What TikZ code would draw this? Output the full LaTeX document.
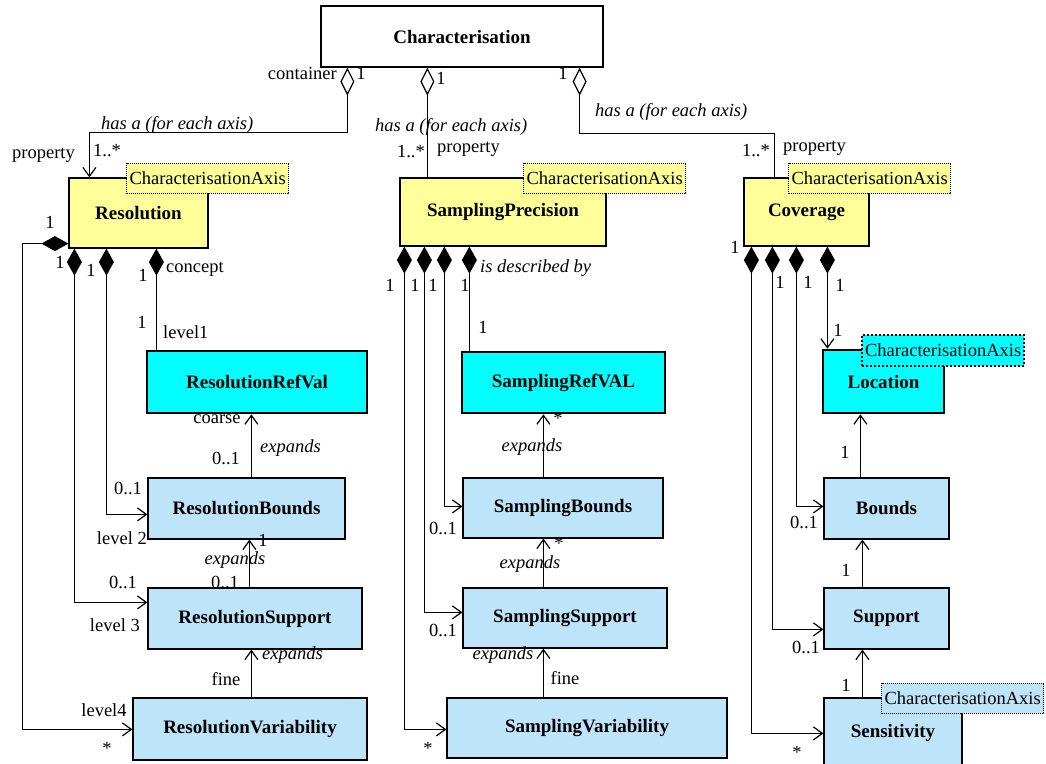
\documentclass[tikz,border=0pt]{standalone}
\usepackage{fontspec}
\setmainfont{Liberation Serif}
\usetikzlibrary{arrows.meta,calc}
\definecolor{axisyel}{RGB}{255,255,153}
\definecolor{refcyan}{RGB}{0,255,255}
\definecolor{subblue}{RGB}{190,228,250}
\begin{document}
\begin{tikzpicture}[x=1pt, y=-1pt,
  every node/.style={font=\fontsize{18.5}{20}\selectfont, inner sep=0pt},
  cls/.style={draw, line width=1.2pt, font=\fontsize{19}{21}\selectfont\bfseries},
  axisbox/.style={cls, fill=axisyel},
  refbox/.style={cls, line width=2.6pt, fill=refcyan},
  detailbox/.style={cls, fill=subblue},
  axistag/.style={draw, line width=1pt, dash pattern=on 1pt off 1pt, inner xsep=3pt, minimum height=30pt, anchor=west},
  rolelbl/.style={font=\fontsize{18.5}{20}\selectfont\itshape},
  link/.style={line width=1.2pt},
  >={Straight Barb[length=9pt, width=13pt]},
  hasa/.style={link, {Diamond[open, length=28pt, width=14pt]}-},
  hasato/.style={link, {Diamond[open, length=28pt, width=14pt]}->},
  partof/.style={link, {Diamond[length=27pt, width=15pt]}-},
  partofto/.style={link, {Diamond[length=27pt, width=15pt]}->},
  expands/.style={link, ->}]
  \useasboundingbox (0,0) rectangle (1046,763);

  \node (l30) at (217,419) {coarse};

  \node[cls, minimum width=282pt, minimum height=61pt] (char) at (462,36.5) {Characterisation};
  \node[axisbox, minimum width=139pt, minimum height=70pt] (res) at (138.5,213) {Resolution};
  \node[axisbox, minimum width=206pt, minimum height=68pt] (sp) at (503,212) {SamplingPrecision};
  \node[axisbox, minimum width=125pt, minimum height=68pt] (cov) at (806.5,212) {Coverage};
  \node[axistag, fill=axisyel] (restag) at (126,178) {CharacterisationAxis};
  \node[axistag, fill=axisyel] (sptag) at (523,178) {CharacterisationAxis};
  \node[axistag, fill=axisyel] (covtag) at (788,178) {CharacterisationAxis};

  \node[refbox, minimum width=220pt, minimum height=62pt] (rrv) at (257,382) {ResolutionRefVal};
  \node[detailbox, minimum width=197pt, minimum height=61pt] (rb) at (246.5,508.5) {ResolutionBounds};
  \node[detailbox, minimum width=214pt, minimum height=61pt] (rs) at (255,618.5) {ResolutionSupport};
  \node[detailbox, minimum width=234pt, minimum height=62pt] (rv) at (250,729) {ResolutionVariability};

  \node[refbox, minimum width=203pt, minimum height=61pt] (srv) at (563.5,382.5) {SamplingRefVAL};
  \node[detailbox, minimum width=200pt, minimum height=60pt] (sb) at (563,508) {SamplingBounds};
  \node[detailbox, minimum width=204pt, minimum height=60pt] (ss) at (565,618) {SamplingSupport};
  \node[detailbox, minimum width=280pt, minimum height=60pt] (sv) at (587,728) {SamplingVariability};

  \node[refbox, minimum width=121pt, minimum height=63pt] (loc) at (883.5,381.5) {Location};
  \node[axistag, fill=refcyan, line width=2.2pt, dash pattern=on 2pt off 2pt, minimum height=31pt] (loctag) at (861,350.5) {CharacterisationAxis};
  \node[detailbox, minimum width=125pt, minimum height=61pt] (bnd) at (886.5,508.5) {Bounds};
  \node[detailbox, minimum width=125pt, minimum height=61pt] (sup) at (886.5,618.5) {Support};
  \node[detailbox, minimum width=138pt, minimum height=70pt] (sens) at (893,733) {Sensitivity};
  \node[axistag, fill=subblue] (senstag) at (881,698) {CharacterisationAxis};

  \coordinate (c1) at ($(char.south west)+(27,0)$);
  \coordinate (c2) at ($(char.south west)+(107,0)$);
  \coordinate (c3) at ($(char.south east)+(-24,0)$);
  \draw[hasato] (c1) -- ++(0,65) -| ($(res.north west)+(21,0)$);
  \draw[hasa] (c2) -- (c2 |- sp.north);
  \draw[hasa] (c3) -- ++(0,66) -| ($(cov.north west)+(31,0)$);

  \coordinate (r4) at ($(res.south west)+(88,0)$);
  \draw[partofto] ($(res.south west)+(0,-5)$) -- ++(-46,0) |- ($(rv.north west)+(0,32)$);
  \draw[partofto] ($(res.south west)+(6,0)$) |- ($(rs.north west)+(0,15)$);
  \draw[partofto] ($(res.south west)+(38,0)$) |- ($(rb.north west)+(0,37)$);
  \draw[partof] (r4) -- (r4 |- rrv.north);

  \coordinate (s4) at ($(sp.south west)+(70,0)$);
  \draw[partofto] ($(sp.south west)+(5,0)$) |- ($(sv.north west)+(0,32)$);
  \draw[partofto] ($(sp.south west)+(25,0)$) |- ($(ss.north west)+(0,25)$);
  \draw[partofto] ($(sp.south west)+(45,0)$) |- ($(sb.north west)+(0,29)$);
  \draw[partof] (s4) -- (s4 |- srv.north);

  \coordinate (v4) at ($(cov.south west)+(84,0)$);
  \draw[partofto] ($(cov.south west)+(8,0)$) |- ($(sens.north west)+(0,36)$);
  \draw[partofto] ($(cov.south west)+(29,0)$) |- ($(sup.north west)+(0,42)$);
  \draw[partofto] ($(cov.south west)+(53,0)$) |- ($(bnd.north west)+(0,29)$);
  \draw[partofto] (v4) -- (v4 |- loc.north);

  \coordinate (e1) at ($(rb.north west)+(104,0)$);
  \coordinate (e2) at ($(rs.north west)+(102,0)$);
  \coordinate (e3) at ($(rv.north west)+(119,0)$);
  \coordinate (e4) at ($(sb.north west)+(81,0)$);
  \coordinate (e5) at ($(ss.north west)+(81,0)$);
  \coordinate (e6) at ($(sv.north west)+(97,0)$);
  \coordinate (e7) at ($(bnd.north west)+(37,0)$);
  \coordinate (e8) at ($(sup.north west)+(39,0)$);
  \coordinate (e9) at ($(sens.north west)+(39,0)$);
  \draw[expands] (e1) -- (e1 |- rrv.south);
  \draw[expands] (e2) -- (e2 |- rb.south);
  \draw[expands] (e3) -- (e3 |- rs.south);
  \draw[expands] (e4) -- (e4 |- srv.south);
  \draw[expands] (e5) -- (e5 |- sb.south);
  \draw[expands] (e6) -- (e6 |- ss.south);
  \draw[expands] (e7) -- (e7 |- loc.south);
  \draw[expands] (e8) -- (e8 |- bnd.south);
  \draw[expands] (e9) -- (e9 |- sup.south);

  \node[anchor=east] (l1) at (337,73) {container};
  \node (l2) at (361,73) {1};
  \node[rolelbl, anchor=west] (l3) at (101,125) {has a (for each axis)};
  \node[anchor=west] (l4) at (12,155) {property};
  \node[anchor=west] (l5) at (93,151) {1..*};
  \node (l6) at (441,78) {1};
  \node[rolelbl, anchor=west] (l7) at (375,127) {has a (for each axis)};
  \node[anchor=east] (l8) at (425,152) {1..*};
  \node[anchor=west] (l9) at (437,149) {property};
  \node (l10) at (563,73) {1};
  \node[rolelbl, anchor=west] (l11) at (595,112) {has a (for each axis)};
  \node[anchor=east] (l12) at (770,151) {1..*};
  \node[anchor=west] (l13) at (783,148) {property};

  \node (l20) at (50,222) {1};
  \node (l21) at (60,262) {1};
  \node (l22) at (91,270) {1};
  \node (l23) at (143,275) {1};
  \node[anchor=west] (l24) at (166,269) {concept};
  \node (l25) at (142,322) {1};
  \node[anchor=west] (l26) at (163,332) {level1};
  \node[rolelbl, anchor=west] (l31) at (260,448) {expands};
  \node (l32) at (226,458) {0..1};
  \node (l33) at (128,488) {0..1};
  \node[anchor=east] (l34) at (147,538) {level 2};
  \node (l35) at (263,540) {1};
  \node[rolelbl] (l36) at (235,560) {expands};
  \node (l37) at (225,582) {0..1};
  \node (l38) at (123,582) {0..1};
  \node[anchor=east] (l39) at (140,625) {level 3};
  \node[rolelbl, anchor=west] (l40) at (262,655) {expands};
  \node (l41) at (226,679) {fine};
  \node (l42) at (104,710) {level4};
  \node (l43) at (107,748) {*};

  \node (l50) at (390,285) {1};
  \node (l51) at (415,285) {1};
  \node (l52) at (433,285) {1};
  \node (l53) at (465,285) {1};
  \node[rolelbl, anchor=west] (l54) at (480,268) {is described by};
  \node (l55) at (483,327) {1};
  \node (l56) at (558,418) {*};
  \node[rolelbl] (l57) at (532,447) {expands};
  \node (l58) at (443,528) {0..1};
  \node (l59) at (559,543) {*};
  \node[rolelbl] (l60) at (530,564) {expands};
  \node (l61) at (443,630) {0..1};
  \node[rolelbl] (l62) at (503,655) {expands};
  \node (l63) at (565,678) {fine};
  \node (l64) at (428,748) {*};

  \node (l70) at (735,247) {1};
  \node (l71) at (780,282) {1};
  \node (l72) at (808,282) {1};
  \node (l73) at (840,285) {1};
  \node (l74) at (838,330) {1};
  \node (l75) at (845,452) {1};
  \node (l76) at (804,522) {0..1};
  \node (l77) at (846,570) {1};
  \node (l78) at (806,647) {0..1};
  \node (l79) at (846,685) {1};
  \node (l80) at (797,752) {*};
\end{tikzpicture}
\end{document}
